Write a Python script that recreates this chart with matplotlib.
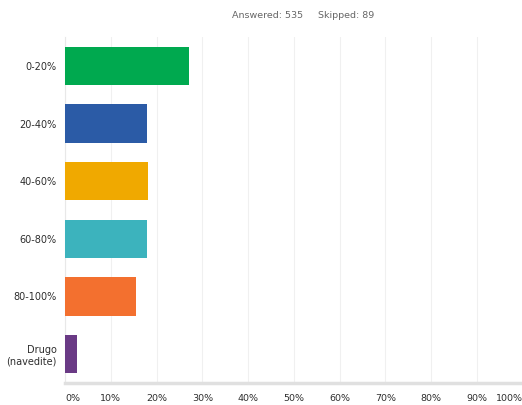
import matplotlib
matplotlib.use("Agg")
import matplotlib.pyplot as plt

categories = ["0-20%", "20-40%", "40-60%", "60-80%", "80-100%", "Drugo\n(navedite)"]
percent = [27.1, 17.9, 18.1, 17.9, 15.6, 2.6]
colors = ["#00a94f", "#2b5ba6", "#f0a900", "#3cb3bd", "#f3702f", "#6a3a85"]
x_ticks = list(range(0, 101, 10))
x_tick_labels = [f"{t}%" for t in x_ticks]
answered = 535
skipped = 89

plt.rcParams["font.family"] = ["DejaVu Sans"]

fig = plt.figure(figsize=(5.22, 4.05), dpi=100)
ax = fig.add_axes([65 / 522, 22 / 405, 457.8 / 522, 346 / 405])

y = list(range(len(categories)))
ax.barh(y, percent, height=0.66, color=colors, zorder=3)

ax.set_xlim(0, 100)
ax.set_ylim(len(categories) - 0.5, -0.5)

ax.set_yticks(y)
ax.set_yticklabels(categories, fontsize=7, color="#2e2e2e")
ax.set_xticks(x_ticks)
ax.set_xticklabels(x_tick_labels, fontsize=6.8, color="#2e2e2e")
labels = ax.get_xticklabels()
labels[0].set_ha("left")
labels[-1].set_ha("right")
ax.tick_params(axis="both", length=0)
ax.tick_params(axis="x", pad=8)
ax.tick_params(axis="y", pad=6)

ax.grid(axis="x", color="#f0f0f0", linewidth=0.8, zorder=0)
ax.grid(axis="y", visible=False)
for side in ("top", "right"):
    ax.spines[side].set_visible(False)
ax.spines["left"].set_color("#e8e8e8")
ax.spines["left"].set_linewidth(0.8)
ax.spines["bottom"].set_color("#e0e0e0")
ax.spines["bottom"].set_linewidth(2.5)

fig.text(232 / 522, 1 - 16 / 405, f"Answered: {answered}", fontsize=6.8,
         color="#666666", va="center", ha="left")
fig.text(318 / 522, 1 - 16 / 405, f"Skipped: {skipped}", fontsize=6.8,
         color="#666666", va="center", ha="left")

fig.savefig("out.png", dpi=100)
